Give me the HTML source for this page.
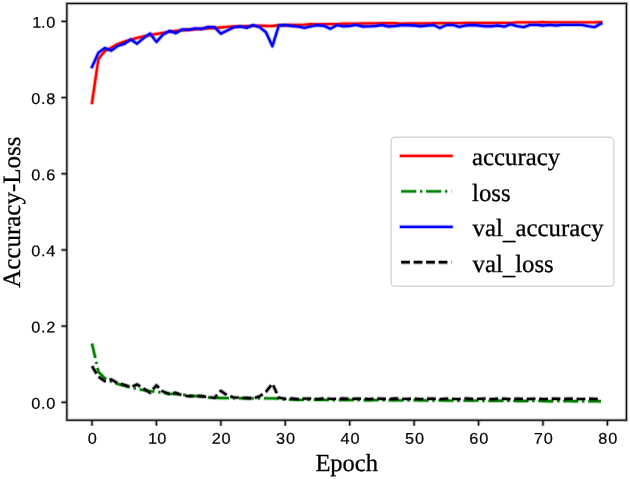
<!DOCTYPE html>
<html><head><meta charset="utf-8"><style>
html,body{margin:0;padding:0;background:#fff;width:630px;height:479px;overflow:hidden}
svg{display:block;will-change:transform}
.tk{text-rendering:geometricPrecision;font-family:"Liberation Sans",sans-serif;font-size:15.6px;fill:#000;stroke:#000;stroke-width:0.2px}
.lb{text-rendering:geometricPrecision;font-family:"Liberation Serif",serif;font-size:25px;fill:#000;stroke:#000;stroke-width:0.3px}
</style></head><body>
<svg width="630" height="479" viewBox="0 0 630 479">
<rect width="630" height="479" fill="#fff"/>
<g fill="none" stroke-linejoin="round">
<polyline points="92.00,102.72 98.44,58.92 104.89,50.92 111.33,47.68 117.77,43.99 124.21,41.70 130.66,39.80 137.10,37.89 143.54,36.41 149.98,35.11 156.43,33.97 162.87,32.83 169.31,31.80 175.75,30.92 182.19,30.31 188.64,29.78 195.08,29.40 201.52,28.79 207.97,28.41 214.41,27.99 220.85,27.49 227.29,26.88 233.73,26.35 240.18,26.50 246.62,26.09 253.06,25.89 259.50,25.59 265.95,25.97 272.39,25.97 278.83,25.21 285.27,25.21 291.72,24.98 298.16,24.83 304.60,24.60 311.04,24.22 317.49,24.45 323.93,24.22 330.37,24.07 336.81,24.07 343.26,23.76 349.70,23.69 356.14,23.61 362.58,23.49 369.03,23.42 375.47,23.38 381.91,23.30 388.36,23.23 394.80,23.19 401.24,23.57 407.68,23.53 414.12,23.49 420.57,23.46 427.01,23.38 433.45,23.30 439.89,23.27 446.34,23.19 452.78,23.11 459.22,23.08 465.67,23.00 472.11,22.81 478.55,23.04 484.99,23.00 491.44,22.96 497.88,22.92 504.32,22.92 510.76,22.89 517.20,22.43 523.65,22.39 530.09,22.39 536.53,22.39 542.97,22.24 549.42,22.35 555.86,22.35 562.30,22.35 568.75,22.31 575.19,22.31 581.63,22.31 588.07,22.31 594.51,22.31 600.96,22.28" stroke-linecap="square" stroke="#ff0000" stroke-width="4.36" stroke-opacity="0.28"/><polyline points="92.00,102.72 98.44,58.92 104.89,50.92 111.33,47.68 117.77,43.99 124.21,41.70 130.66,39.80 137.10,37.89 143.54,36.41 149.98,35.11 156.43,33.97 162.87,32.83 169.31,31.80 175.75,30.92 182.19,30.31 188.64,29.78 195.08,29.40 201.52,28.79 207.97,28.41 214.41,27.99 220.85,27.49 227.29,26.88 233.73,26.35 240.18,26.50 246.62,26.09 253.06,25.89 259.50,25.59 265.95,25.97 272.39,25.97 278.83,25.21 285.27,25.21 291.72,24.98 298.16,24.83 304.60,24.60 311.04,24.22 317.49,24.45 323.93,24.22 330.37,24.07 336.81,24.07 343.26,23.76 349.70,23.69 356.14,23.61 362.58,23.49 369.03,23.42 375.47,23.38 381.91,23.30 388.36,23.23 394.80,23.19 401.24,23.57 407.68,23.53 414.12,23.49 420.57,23.46 427.01,23.38 433.45,23.30 439.89,23.27 446.34,23.19 452.78,23.11 459.22,23.08 465.67,23.00 472.11,22.81 478.55,23.04 484.99,23.00 491.44,22.96 497.88,22.92 504.32,22.92 510.76,22.89 517.20,22.43 523.65,22.39 530.09,22.39 536.53,22.39 542.97,22.24 549.42,22.35 555.86,22.35 562.30,22.35 568.75,22.31 575.19,22.31 581.63,22.31 588.07,22.31 594.51,22.31 600.96,22.28" stroke-linecap="square" stroke="#ff0000" stroke-width="2.355"/><polyline points="92.00,343.41 98.44,371.83 104.89,378.30 111.33,381.54 117.77,384.02 124.21,385.54 130.66,387.29 137.10,388.97 143.54,390.19 149.98,391.10 156.43,391.71 162.87,392.78 169.31,393.69 175.75,394.00 182.19,394.49 188.64,395.60 195.08,396.02 201.52,396.66 207.97,397.35 214.41,397.81 220.85,398.03 227.29,398.11 233.73,398.19 240.18,398.26 246.62,398.30 253.06,398.34 259.50,398.38 265.95,398.41 272.39,398.41 278.83,398.45 285.27,399.60 291.72,399.67 298.16,399.86 304.60,399.90 311.04,399.82 317.49,399.75 323.93,399.86 330.37,400.05 336.81,400.05 343.26,399.98 349.70,399.94 356.14,400.05 362.58,400.21 369.03,400.21 375.47,400.09 381.91,400.09 388.36,400.24 394.80,400.40 401.24,400.36 407.68,400.24 414.12,400.28 420.57,400.43 427.01,400.55 433.45,400.51 439.89,400.40 446.34,400.47 452.78,400.62 459.22,400.74 465.67,400.66 472.11,400.59 478.55,400.66 484.99,400.81 491.44,400.89 497.88,400.78 504.32,400.74 510.76,400.85 517.20,401.00 523.65,401.04 530.09,400.93 536.53,400.89 542.97,401.04 549.42,401.20 555.86,401.20 562.30,401.08 568.75,401.08 575.19,401.23 581.63,401.35 588.07,401.31 594.51,401.23 600.96,401.27" stroke-linecap="butt" stroke="#008000" stroke-width="4.36" stroke-opacity="0.28" stroke-dasharray="15.07 3.77 2.35 3.77"/><polyline points="92.00,343.41 98.44,371.83 104.89,378.30 111.33,381.54 117.77,384.02 124.21,385.54 130.66,387.29 137.10,388.97 143.54,390.19 149.98,391.10 156.43,391.71 162.87,392.78 169.31,393.69 175.75,394.00 182.19,394.49 188.64,395.60 195.08,396.02 201.52,396.66 207.97,397.35 214.41,397.81 220.85,398.03 227.29,398.11 233.73,398.19 240.18,398.26 246.62,398.30 253.06,398.34 259.50,398.38 265.95,398.41 272.39,398.41 278.83,398.45 285.27,399.60 291.72,399.67 298.16,399.86 304.60,399.90 311.04,399.82 317.49,399.75 323.93,399.86 330.37,400.05 336.81,400.05 343.26,399.98 349.70,399.94 356.14,400.05 362.58,400.21 369.03,400.21 375.47,400.09 381.91,400.09 388.36,400.24 394.80,400.40 401.24,400.36 407.68,400.24 414.12,400.28 420.57,400.43 427.01,400.55 433.45,400.51 439.89,400.40 446.34,400.47 452.78,400.62 459.22,400.74 465.67,400.66 472.11,400.59 478.55,400.66 484.99,400.81 491.44,400.89 497.88,400.78 504.32,400.74 510.76,400.85 517.20,401.00 523.65,401.04 530.09,400.93 536.53,400.89 542.97,401.04 549.42,401.20 555.86,401.20 562.30,401.08 568.75,401.08 575.19,401.23 581.63,401.35 588.07,401.31 594.51,401.23 600.96,401.27" stroke-linecap="butt" stroke="#008000" stroke-width="2.355" stroke-dasharray="15.07 3.77 2.35 3.77"/><polyline points="92.00,66.92 98.44,52.63 104.89,48.06 111.33,50.62 117.77,45.89 124.21,43.99 130.66,39.49 137.10,43.68 143.54,38.16 149.98,33.59 156.43,41.89 162.87,34.73 169.31,30.92 175.75,33.21 182.19,29.40 188.64,29.78 195.08,28.41 201.52,29.02 207.97,26.81 214.41,27.11 220.85,33.59 227.29,30.54 233.73,27.30 240.18,26.35 246.62,27.88 253.06,25.21 259.50,27.11 265.95,32.22 272.39,46.16 278.83,25.48 285.27,24.98 291.72,25.97 298.16,26.66 304.60,27.88 311.04,26.35 317.49,25.21 323.93,25.89 330.37,28.79 336.81,25.21 343.26,26.35 349.70,25.97 356.14,24.83 362.58,26.50 369.03,26.35 375.47,25.97 381.91,24.98 388.36,26.50 394.80,25.97 401.24,25.25 407.68,25.25 414.12,25.48 420.57,26.24 427.01,25.48 433.45,24.98 439.89,27.99 446.34,24.98 452.78,24.98 459.22,26.88 465.67,25.48 472.11,24.98 478.55,25.48 484.99,26.24 491.44,26.24 497.88,25.48 504.32,26.66 510.76,24.26 517.20,26.09 523.65,27.11 530.09,24.83 536.53,24.83 542.97,25.48 549.42,24.83 555.86,25.48 562.30,24.83 568.75,24.83 575.19,24.83 581.63,24.83 588.07,26.09 594.51,27.11 600.96,23.61" stroke-linecap="square" stroke="#0000ff" stroke-width="4.36" stroke-opacity="0.28"/><polyline points="92.00,66.92 98.44,52.63 104.89,48.06 111.33,50.62 117.77,45.89 124.21,43.99 130.66,39.49 137.10,43.68 143.54,38.16 149.98,33.59 156.43,41.89 162.87,34.73 169.31,30.92 175.75,33.21 182.19,29.40 188.64,29.78 195.08,28.41 201.52,29.02 207.97,26.81 214.41,27.11 220.85,33.59 227.29,30.54 233.73,27.30 240.18,26.35 246.62,27.88 253.06,25.21 259.50,27.11 265.95,32.22 272.39,46.16 278.83,25.48 285.27,24.98 291.72,25.97 298.16,26.66 304.60,27.88 311.04,26.35 317.49,25.21 323.93,25.89 330.37,28.79 336.81,25.21 343.26,26.35 349.70,25.97 356.14,24.83 362.58,26.50 369.03,26.35 375.47,25.97 381.91,24.98 388.36,26.50 394.80,25.97 401.24,25.25 407.68,25.25 414.12,25.48 420.57,26.24 427.01,25.48 433.45,24.98 439.89,27.99 446.34,24.98 452.78,24.98 459.22,26.88 465.67,25.48 472.11,24.98 478.55,25.48 484.99,26.24 491.44,26.24 497.88,25.48 504.32,26.66 510.76,24.26 517.20,26.09 523.65,27.11 530.09,24.83 536.53,24.83 542.97,25.48 549.42,24.83 555.86,25.48 562.30,24.83 568.75,24.83 575.19,24.83 581.63,24.83 588.07,26.09 594.51,27.11 600.96,23.61" stroke-linecap="square" stroke="#0000ff" stroke-width="2.355"/><polyline points="92.00,366.19 98.44,376.78 104.89,381.16 111.33,379.45 117.77,383.25 124.21,384.78 130.66,387.29 137.10,384.40 143.54,388.59 149.98,392.78 156.43,385.39 162.87,391.52 169.31,394.00 175.75,392.78 182.19,395.29 188.64,396.21 195.08,396.02 201.52,396.02 207.97,397.08 214.41,397.88 220.85,390.87 227.29,395.48 233.73,397.35 240.18,397.73 246.62,398.00 253.06,398.41 259.50,396.40 265.95,391.83 272.39,383.64 278.83,397.61 285.27,398.80 291.72,398.53 298.16,399.06 304.60,398.61 311.04,398.68 317.49,399.06 323.93,398.49 330.37,398.87 336.81,398.95 343.26,398.49 349.70,399.02 356.14,398.76 362.58,398.57 369.03,399.10 375.47,398.61 381.91,398.76 388.36,399.06 394.80,398.49 401.24,398.95 407.68,398.91 414.12,398.53 420.57,399.06 427.01,398.76 433.45,398.64 439.89,399.10 446.34,398.61 452.78,398.83 459.22,399.06 465.67,398.53 472.11,398.99 478.55,398.91 484.99,398.57 491.44,399.10 497.88,398.72 504.32,398.72 510.76,399.14 517.20,398.57 523.65,398.91 530.09,399.02 536.53,398.53 542.97,399.06 549.42,398.87 555.86,398.61 562.30,399.18 568.75,398.68 575.19,398.76 581.63,399.14 588.07,398.61 594.51,398.99 600.96,399.02" stroke-linecap="butt" stroke="#000000" stroke-width="4.36" stroke-opacity="0.28" stroke-dasharray="8.71 3.77"/><polyline points="92.00,366.19 98.44,376.78 104.89,381.16 111.33,379.45 117.77,383.25 124.21,384.78 130.66,387.29 137.10,384.40 143.54,388.59 149.98,392.78 156.43,385.39 162.87,391.52 169.31,394.00 175.75,392.78 182.19,395.29 188.64,396.21 195.08,396.02 201.52,396.02 207.97,397.08 214.41,397.88 220.85,390.87 227.29,395.48 233.73,397.35 240.18,397.73 246.62,398.00 253.06,398.41 259.50,396.40 265.95,391.83 272.39,383.64 278.83,397.61 285.27,398.80 291.72,398.53 298.16,399.06 304.60,398.61 311.04,398.68 317.49,399.06 323.93,398.49 330.37,398.87 336.81,398.95 343.26,398.49 349.70,399.02 356.14,398.76 362.58,398.57 369.03,399.10 375.47,398.61 381.91,398.76 388.36,399.06 394.80,398.49 401.24,398.95 407.68,398.91 414.12,398.53 420.57,399.06 427.01,398.76 433.45,398.64 439.89,399.10 446.34,398.61 452.78,398.83 459.22,399.06 465.67,398.53 472.11,398.99 478.55,398.91 484.99,398.57 491.44,399.10 497.88,398.72 504.32,398.72 510.76,399.14 517.20,398.57 523.65,398.91 530.09,399.02 536.53,398.53 542.97,399.06 549.42,398.87 555.86,398.61 562.30,399.18 568.75,398.68 575.19,398.76 581.63,399.14 588.07,398.61 594.51,398.99 600.96,399.02" stroke-linecap="butt" stroke="#000000" stroke-width="2.355" stroke-dasharray="8.71 3.77"/>
</g>
<g fill="none">
<rect x="66.85" y="3.45" width="559.60" height="416.75" stroke="#111" stroke-width="3.30" stroke-opacity="0.28"/><rect x="66.85" y="3.45" width="559.60" height="416.75" stroke="#111" stroke-width="1.300"/>
<g stroke="#111" stroke-width="3.30" stroke-opacity="0.28"><line x1="92.00" y1="420.2" x2="92.00" y2="425.7"/><line x1="156.43" y1="420.2" x2="156.43" y2="425.7"/><line x1="220.85" y1="420.2" x2="220.85" y2="425.7"/><line x1="285.27" y1="420.2" x2="285.27" y2="425.7"/><line x1="349.70" y1="420.2" x2="349.70" y2="425.7"/><line x1="414.12" y1="420.2" x2="414.12" y2="425.7"/><line x1="478.55" y1="420.2" x2="478.55" y2="425.7"/><line x1="542.97" y1="420.2" x2="542.97" y2="425.7"/><line x1="607.40" y1="420.2" x2="607.40" y2="425.7"/><line x1="61.349999999999994" y1="402.30" x2="66.85" y2="402.30"/><line x1="61.349999999999994" y1="326.12" x2="66.85" y2="326.12"/><line x1="61.349999999999994" y1="249.94" x2="66.85" y2="249.94"/><line x1="61.349999999999994" y1="173.76" x2="66.85" y2="173.76"/><line x1="61.349999999999994" y1="97.58" x2="66.85" y2="97.58"/><line x1="61.349999999999994" y1="21.40" x2="66.85" y2="21.40"/></g><g stroke="#111" stroke-width="1.3"><line x1="92.00" y1="420.2" x2="92.00" y2="425.7"/><line x1="156.43" y1="420.2" x2="156.43" y2="425.7"/><line x1="220.85" y1="420.2" x2="220.85" y2="425.7"/><line x1="285.27" y1="420.2" x2="285.27" y2="425.7"/><line x1="349.70" y1="420.2" x2="349.70" y2="425.7"/><line x1="414.12" y1="420.2" x2="414.12" y2="425.7"/><line x1="478.55" y1="420.2" x2="478.55" y2="425.7"/><line x1="542.97" y1="420.2" x2="542.97" y2="425.7"/><line x1="607.40" y1="420.2" x2="607.40" y2="425.7"/><line x1="61.349999999999994" y1="402.30" x2="66.85" y2="402.30"/><line x1="61.349999999999994" y1="326.12" x2="66.85" y2="326.12"/><line x1="61.349999999999994" y1="249.94" x2="66.85" y2="249.94"/><line x1="61.349999999999994" y1="173.76" x2="66.85" y2="173.76"/><line x1="61.349999999999994" y1="97.58" x2="66.85" y2="97.58"/><line x1="61.349999999999994" y1="21.40" x2="66.85" y2="21.40"/></g>
</g>
<g class="tk">
<text transform="translate(92.30,443.75) rotate(0.3) scale(1.04,1)" text-anchor="middle">0</text><text transform="translate(152.53,443.75) rotate(0.3) scale(1.04,1)" text-anchor="middle">1</text><text transform="translate(161.72,443.75) rotate(0.3) scale(1.04,1)" text-anchor="middle">0</text><text transform="translate(216.16,443.75) rotate(0.3) scale(1.04,1)" text-anchor="middle">2</text><text transform="translate(226.14,443.75) rotate(0.3) scale(1.04,1)" text-anchor="middle">0</text><text transform="translate(280.58,443.75) rotate(0.3) scale(1.04,1)" text-anchor="middle">3</text><text transform="translate(290.57,443.75) rotate(0.3) scale(1.04,1)" text-anchor="middle">0</text><text transform="translate(345.01,443.75) rotate(0.3) scale(1.04,1)" text-anchor="middle">4</text><text transform="translate(354.99,443.75) rotate(0.3) scale(1.04,1)" text-anchor="middle">0</text><text transform="translate(409.43,443.75) rotate(0.3) scale(1.04,1)" text-anchor="middle">5</text><text transform="translate(419.42,443.75) rotate(0.3) scale(1.04,1)" text-anchor="middle">0</text><text transform="translate(473.86,443.75) rotate(0.3) scale(1.04,1)" text-anchor="middle">6</text><text transform="translate(483.84,443.75) rotate(0.3) scale(1.04,1)" text-anchor="middle">0</text><text transform="translate(538.28,443.75) rotate(0.3) scale(1.04,1)" text-anchor="middle">7</text><text transform="translate(548.27,443.75) rotate(0.3) scale(1.04,1)" text-anchor="middle">0</text><text transform="translate(602.71,443.75) rotate(0.3) scale(1.04,1)" text-anchor="middle">8</text><text transform="translate(612.69,443.75) rotate(0.3) scale(1.04,1)" text-anchor="middle">0</text>
<text transform="translate(35.86,408.70) rotate(0.3) scale(1.04,1)" text-anchor="middle">0</text><text transform="translate(43.35,408.70) rotate(0.3) scale(1.04,1)" text-anchor="middle">.</text><text transform="translate(50.84,408.70) rotate(0.3) scale(1.04,1)" text-anchor="middle">0</text><text transform="translate(35.86,332.52) rotate(0.3) scale(1.04,1)" text-anchor="middle">0</text><text transform="translate(43.35,332.52) rotate(0.3) scale(1.04,1)" text-anchor="middle">.</text><text transform="translate(50.84,332.52) rotate(0.3) scale(1.04,1)" text-anchor="middle">2</text><text transform="translate(35.86,256.34) rotate(0.3) scale(1.04,1)" text-anchor="middle">0</text><text transform="translate(43.35,256.34) rotate(0.3) scale(1.04,1)" text-anchor="middle">.</text><text transform="translate(50.84,256.34) rotate(0.3) scale(1.04,1)" text-anchor="middle">4</text><text transform="translate(35.86,180.16) rotate(0.3) scale(1.04,1)" text-anchor="middle">0</text><text transform="translate(43.35,180.16) rotate(0.3) scale(1.04,1)" text-anchor="middle">.</text><text transform="translate(50.84,180.16) rotate(0.3) scale(1.04,1)" text-anchor="middle">6</text><text transform="translate(35.86,103.98) rotate(0.3) scale(1.04,1)" text-anchor="middle">0</text><text transform="translate(43.35,103.98) rotate(0.3) scale(1.04,1)" text-anchor="middle">.</text><text transform="translate(50.84,103.98) rotate(0.3) scale(1.04,1)" text-anchor="middle">8</text><text transform="translate(36.66,27.80) rotate(0.3) scale(1.04,1)" text-anchor="middle">1</text><text transform="translate(43.35,27.80) rotate(0.3) scale(1.04,1)" text-anchor="middle">.</text><text transform="translate(50.84,27.80) rotate(0.3) scale(1.04,1)" text-anchor="middle">0</text>
</g>
<rect x="391.1" y="137.3" width="222.7" height="149.0" rx="3.9" ry="3.9" fill="#fff" fill-opacity="0.8" stroke="#d5d5d5" stroke-width="1.4"/>
<g fill="none">
<line x1="401.2" y1="155.9" x2="451.4" y2="155.9" stroke-linecap="square" stroke="#ff0000" stroke-width="4.36" stroke-opacity="0.28"/><line x1="401.2" y1="155.9" x2="451.4" y2="155.9" stroke-linecap="square" stroke="#ff0000" stroke-width="2.355"/><line x1="401.2" y1="191.35" x2="451.4" y2="191.35" stroke-linecap="butt" stroke="#008000" stroke-width="4.36" stroke-opacity="0.28" stroke-dasharray="15.07 3.77 2.35 3.77"/><line x1="401.2" y1="191.35" x2="451.4" y2="191.35" stroke-linecap="butt" stroke="#008000" stroke-width="2.355" stroke-dasharray="15.07 3.77 2.35 3.77"/><line x1="401.2" y1="226.85" x2="451.4" y2="226.85" stroke-linecap="square" stroke="#0000ff" stroke-width="4.36" stroke-opacity="0.28"/><line x1="401.2" y1="226.85" x2="451.4" y2="226.85" stroke-linecap="square" stroke="#0000ff" stroke-width="2.355"/><line x1="401.2" y1="262.25" x2="451.4" y2="262.25" stroke-linecap="butt" stroke="#000000" stroke-width="4.36" stroke-opacity="0.28" stroke-dasharray="8.71 3.77"/><line x1="401.2" y1="262.25" x2="451.4" y2="262.25" stroke-linecap="butt" stroke="#000000" stroke-width="2.355" stroke-dasharray="8.71 3.77"/>
</g>
<g class="lb">
<text x="472.1" y="165.3" style="font-size:24.75px">accuracy</text><text x="472.1" y="200.8" style="font-size:24.75px">loss</text><text x="472.6" y="236.2" style="font-size:24.75px;letter-spacing:0.05px">val<tspan dy="2.4">_</tspan><tspan dy="-2.4">accuracy</tspan></text><text x="472.6" y="271.6" style="font-size:24.75px">val<tspan dy="2.4">_</tspan><tspan dy="-2.4">loss</tspan></text>
<text x="346.7" y="470.9" text-anchor="middle" style="font-size:24.5px">Epoch</text>
<text transform="translate(19.9,212.2) rotate(-90)" text-anchor="middle">Accuracy-Loss</text>
</g>
</svg>
</body></html>
